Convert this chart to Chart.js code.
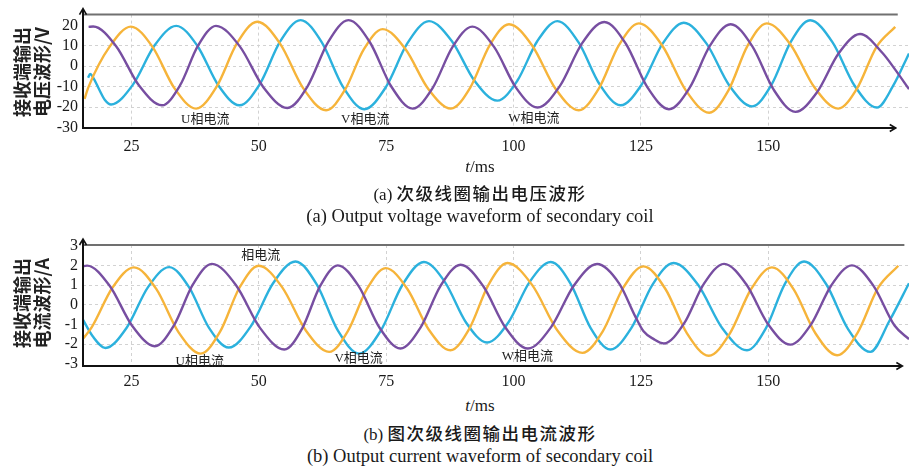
<!DOCTYPE html>
<html>
<head>
<meta charset="utf-8">
<script src="https://cdn.jsdelivr.net/npm/chart.js@4/dist/chart.umd.min.js"></script>
<style>
  html, body { margin: 0; padding: 0; background: #fff; }
  #page { position: relative; width: 909px; height: 468px; overflow: hidden; background: #fff; }
  canvas { position: absolute; left: 0; }
  .ytitle {
    position: absolute; width: 104px; height: 40px; line-height: 20px;
    font-family: "Noto Sans CJK SC", sans-serif; font-weight: 700; font-size: 18px;
    color: #222; text-align: right; white-space: nowrap; transform: rotate(-90deg);
  }
  .xtitle, .cap-cn, .cap-en {
    position: absolute; left: 0; width: 960px; text-align: center; color: #1a1a1a; white-space: nowrap;
  }
  .xtitle { font-family: "Liberation Serif", serif; font-size: 17px; line-height: 20px; }
  .cap-cn { font-family: "Liberation Serif", "Noto Sans CJK SC", serif; font-size: 17px; line-height: 22px; }
  .cap-cn b { font-family: "Noto Sans CJK SC", sans-serif; font-weight: 500; letter-spacing: 1.5px; font-size: 17.5px; }
  .cap-en { font-family: "Liberation Serif", serif; font-size: 18.5px; line-height: 20px; }
</style>
</head>
<body>
<div id="page">
  <canvas id="voltChart" width="909" height="160" style="top:0"></canvas>
  <canvas id="currChart" width="909" height="166" style="top:230px"></canvas>

  <div class="ytitle" style="left:-21px; top:59px;">接收端输出<br>电压波形/V</div>
  <div class="ytitle" style="left:-21px; top:290px;">接收端输出<br>电流波形/A</div>

  <div class="xtitle" style="top:157px;"><i>t</i>/ms</div>
  <div class="cap-cn" style="top:182px;">(a) <b>次级线圈输出电压波形</b></div>
  <div class="cap-en" style="top:206px;">(a) Output voltage waveform of secondary coil</div>

  <div class="xtitle" style="top:396px;"><i>t</i>/ms</div>
  <div class="cap-cn" style="top:422px;">(b) <b>图次级线圈输出电流波形</b></div>
  <div class="cap-en" style="top:446px;">(b) Output current waveform of secondary coil</div>
</div>

<script>
// Time axis ticks (ms)
const timeTicks = [25, 50, 75, 100, 125, 150];
// Value axis ticks
const voltTicks = [-30, -20, -10, 0, 10, 20];
const currTicks = [-3, -2, -1, 0, 1, 2, 3];

// Secondary coil output voltage, [t (ms), V]
const voltPurple = [
  [16.6,19.3],[17.5,19.5],[22.0,9.85],[26.5,-9.45],[31.0,-19.1],[34.53,-9.38],[38.07,10.08],[41.6,19.8],
  [46.27,9.75],[50.93,-10.35],[55.6,-20.4],[59.6,-9.65],[63.6,11.85],[67.6,22.6],[71.8,11.78],[76.0,-9.88],
  [80.2,-20.7],[84.1,-10.68],[88.0,9.38],[91.9,19.4],[96.17,9.5],[100.43,-10.3],[104.7,-20.2],[109.07,-9.73],
  [113.43,11.23],[117.8,21.7],[122.03,11.03],[126.27,-10.33],[130.5,-21.0],[134.53,-10.6],[138.57,10.2],[142.6,20.6],
  [146.83,9.88],[151.07,-11.58],[155.3,-22.3],[159.53,-12.78],[163.77,6.28],[168.0,15.8],[172.4,6.5],[175.0,-2.0],[177.6,-11.2]
];
const voltOrange = [
  [15.8,-16.0],[16.57,-10.2],[20.73,9.6],[24.9,19.4],[29.17,9.38],[33.43,-10.68],[37.7,-20.7],[41.7,-10.08],
  [45.7,11.18],[49.7,21.8],[54.2,10.98],[58.7,-10.68],[63.2,-21.5],[66.9,-11.58],[70.6,8.28],[74.3,18.2],
  [78.77,8.48],[83.23,-10.98],[87.7,-20.7],[91.5,-10.38],[95.3,10.28],[99.1,20.6],[103.67,10.08],[108.23,-10.98],
  [112.8,-21.5],[116.73,-10.88],[120.67,10.38],[124.6,21.0],[129.2,10.08],[133.8,-11.78],[138.4,-22.7],[142.17,-11.78],
  [145.93,10.08],[149.7,21.0],[154.37,10.58],[159.03,-10.28],[163.7,-20.7],[167.43,-10.7],[171.17,9.3],[174.9,19.3]
];
const voltCyan = [
  [16.5,-5.6],[16.9,-3.8],[17.5,-5.5],[18.7,-11.5],[19.8,-16.5],[21.0,-18.7],[25.27,-9.08],[29.53,10.18],
  [33.8,19.8],[37.93,10.08],[42.07,-9.38],[46.2,-19.1],[50.2,-8.68],[54.2,12.18],[58.2,22.6],[62.37,11.7],
  [66.53,-10.1],[70.7,-21.0],[74.93,-10.23],[79.17,11.33],[83.4,22.1],[87.87,12.38],[92.33,-7.08],[96.8,-16.8],
  [100.73,-7.08],[104.67,12.38],[108.6,22.1],[112.73,11.8],[116.87,-8.8],[121.0,-19.1],[125.13,-9.0],[129.27,11.2],
  [133.4,21.3],[137.87,11.08],[142.33,-9.38],[146.8,-19.6],[150.6,-9.08],[154.4,11.98],[158.2,22.5],[162.57,11.83],
  [166.93,-9.53],[171.3,-20.2],[174.5,-9.5],[177.6,6.3]
];

// Secondary coil output current, [t (ms), A]
const currPurple = [
  [15.35,1.96],[16.3,2.0],[20.73,0.97],[25.17,-1.08],[29.6,-2.11],[33.33,-1.06],[37.07,1.04],[40.8,2.09],
  [45.53,1.0],[50.27,-1.19],[55.0,-2.28],[58.5,-1.21],[62.0,0.94],[65.5,2.01],[69.6,0.95],[73.7,-1.17],
  [77.8,-2.23],[81.73,-1.16],[85.67,0.97],[89.6,2.04],[94.0,0.97],[98.4,-1.16],[102.8,-2.23],[107.33,-1.15],
  [111.87,1.0],[116.4,2.08],[120.77,1.07],[123.9,-0.6],[125.5,-1.35],[127.5,-1.75],[129.5,-1.97],[133.43,-0.96],
  [137.37,1.08],[141.3,2.09],[145.63,1.06],[149.97,-1.0],[154.3,-2.03],[158.33,-1.02],[162.37,1.0],[166.4,2.01],
  [170.6,0.98],[174.8,-1.07],[177.6,-1.75]
];
const currOrange = [
  [15.6,-1.7],[17.2,-1.15],[21.3,0.88],[25.5,1.91],[29.87,0.81],[34.23,-1.39],[38.6,-2.49],[42.4,-1.37],
  [46.2,0.87],[50.0,1.99],[54.6,0.89],[59.2,-1.3],[63.8,-2.40],[67.5,-1.33],[71.2,0.8],[74.9,1.87],
  [79.13,0.82],[83.37,-1.27],[87.6,-2.32],[91.33,-1.21],[95.07,1.02],[98.8,2.13],[103.7,0.99],[108.6,-1.31],
  [113.5,-2.45],[117.5,-1.35],[121.5,0.86],[125.5,1.96],[129.77,0.82],[134.03,-1.46],[138.3,-2.60],[142.43,-1.47],
  [146.57,0.78],[150.7,1.91],[154.97,0.79],[159.23,-1.45],[163.5,-2.57],[167.5,-1.43],[171.5,0.85],[175.5,1.99]
];
const currCyan = [
  [15.35,-0.69],[17.4,-1.6],[19.9,-2.2],[24.07,-1.17],[28.23,0.89],[32.4,1.92],[36.3,0.9],[40.2,-1.16],
  [44.1,-2.18],[48.47,-1.08],[52.83,1.11],[57.2,2.21],[61.37,1.04],[65.53,-1.32],[69.7,-2.49],[73.93,-1.32],
  [78.17,1.01],[82.4,2.18],[86.53,1.16],[90.67,-0.9],[94.8,-1.92],[98.97,-0.9],[103.13,1.16],[107.3,2.18],
  [111.2,1.07],[115.1,-1.17],[119.0,-2.28],[123.13,-1.18],[127.27,1.03],[131.4,2.13],[136.2,1.02],[141.0,-1.21],
  [145.8,-2.32],[149.53,-1.19],[153.27,1.08],[157.0,2.21],[161.33,1.06],[165.67,-1.25],[170.0,-2.40],[173.8,-0.8],[177.6,1.1]
];

// Phase labels placed in data coordinates
const voltNotes = [
  { text: 'U相电流', t: 39.5, v: -26.2 },
  { text: 'V相电流', t: 70.9, v: -26.2 },
  { text: 'W相电流', t: 104.0, v: -25.4 }
];
const currNotes = [
  { text: '相电流',  t: 50.4, v: 2.49 },
  { text: 'U相电流', t: 38.4, v: -2.89 },
  { text: 'V相电流', t: 69.6, v: -2.74 },
  { text: 'W相电流', t: 102.7, v: -2.64 }
];

const COLORS = { purple: '#774ea1', orange: '#f6b43a', cyan: '#2bb1dd' };
const SERIF = '"Liberation Serif", "Times New Roman", serif';

// Axis frame: arrowed axes plus a grey top border
const framePlugin = {
  id: 'frame',
  afterDatasetsDraw(chart, args, opts) {
    const { ctx, chartArea: a, scales: { x } } = chart;
    const xe = x.getPixelForValue(opts.axisEnd);
    const yTip = a.top - 6;
    ctx.save();
    ctx.lineCap = 'butt';
    ctx.strokeStyle = '#707070';
    ctx.lineWidth = 2;
    ctx.beginPath();
    ctx.moveTo(a.left, a.top);
    ctx.lineTo(xe + 2, a.top);
    ctx.stroke();

    ctx.strokeStyle = '#111';
    ctx.lineWidth = 2;
    ctx.beginPath();
    ctx.moveTo(a.left, yTip + 1);
    ctx.lineTo(a.left, a.bottom);
    ctx.lineTo(xe - 1, a.bottom);
    ctx.stroke();

    ctx.lineWidth = 1.6;
    ctx.beginPath();
    ctx.moveTo(a.left - 3.5, yTip + 6);
    ctx.lineTo(a.left, yTip);
    ctx.lineTo(a.left + 3.5, yTip + 6);
    ctx.moveTo(xe - 6, a.bottom - 3.5);
    ctx.lineTo(xe, a.bottom);
    ctx.lineTo(xe - 6, a.bottom + 3.5);
    ctx.stroke();

    // phase labels
    ctx.fillStyle = '#222';
    ctx.font = '13px "Liberation Serif", "Noto Sans CJK SC", serif';
    ctx.textAlign = 'center';
    ctx.textBaseline = 'middle';
    const y = chart.scales.y;
    (opts.notes || []).forEach(n => {
      ctx.fillText(n.text, x.getPixelForValue(n.t), y.getPixelForValue(n.v));
    });
    ctx.restore();
  }
};

function lineSet(data, color) {
  return {
    data, borderColor: color, borderWidth: 2.4, pointRadius: 0,
    cubicInterpolationMode: 'monotone', tension: 0.4, fill: false
  };
}

function makeChart(id, sets, yTicks, yMin, yMax, xPad, axisEnd, notes, topPad, xHeight) {
  const lo = yTicks[0], hi = yTicks[yTicks.length - 1];
  return new Chart(document.getElementById(id), {
    type: 'line',
    data: { datasets: sets },
    plugins: [framePlugin],
    options: {
      responsive: false,
      animation: false,
      devicePixelRatio: 1,
      layout: { padding: { top: topPad, right: 0, bottom: 0, left: 0 } },
      plugins: { legend: { display: false }, tooltip: { enabled: false }, frame: { axisEnd, notes } },
      scales: {
        x: {
          type: 'linear', min: 15.5, max: 177.6,
          afterBuildTicks: s => { s.ticks = timeTicks.map(v => ({ value: v })); },
          afterFit: s => { s.height = xHeight; },
          grid: { color: '#d2d2d2', lineWidth: 1, drawTicks: false },
          border: { display: false, dash: [3, 3] },
          ticks: { font: { family: SERIF, size: 16 }, color: '#1a1a1a', padding: xPad, maxRotation: 0, autoSkip: false }
        },
        y: {
          min: yMin, max: yMax,
          afterBuildTicks: s => { s.ticks = yTicks.map(v => ({ value: v })); },
          afterFit: s => { s.width = 83; },
          grid: {
            color: c => (c.tick && (c.tick.value === lo || c.tick.value === hi)) ? 'rgba(0,0,0,0)' : '#d2d2d2',
            lineWidth: 1, drawTicks: false
          },
          border: { display: false, dash: [3, 3] },
          ticks: { font: { family: SERIF, size: 16 }, color: '#1a1a1a', padding: 5, autoSkip: false }
        }
      }
    }
  });
}

makeChart('voltChart',
  [lineSet(voltPurple, COLORS.purple), lineSet(voltOrange, COLORS.orange), lineSet(voltCyan, COLORS.cyan)],
  voltTicks, -30.2, 25.3, 9, 175.0, voltNotes, 11, 32);

makeChart('currChart',
  [lineSet(currPurple, COLORS.purple), lineSet(currOrange, COLORS.orange), lineSet(currCyan, COLORS.cyan)],
  currTicks, -3.12, 3.05, 6, 176.3, currNotes, 15, 30);
</script>
</body>
</html>
